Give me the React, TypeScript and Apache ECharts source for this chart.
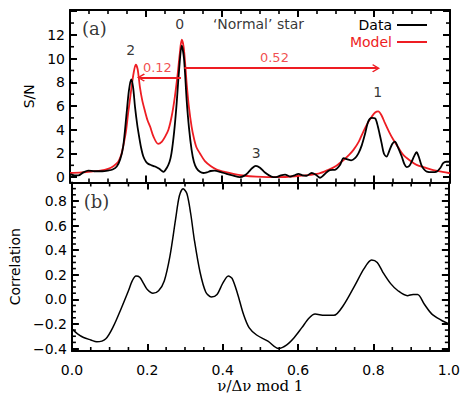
import { useEffect, useRef } from 'react';
import * as echarts from 'echarts';

// ---------- data ----------
const dataPhase = [
  0.0, 0.012, 0.022, 0.035, 0.048, 0.065, 0.085, 0.1, 0.112, 0.123, 0.132, 0.14, 0.149, 0.155, 0.161,
  0.166, 0.171, 0.177, 0.182, 0.187, 0.193, 0.2, 0.206, 0.215, 0.224, 0.235, 0.246, 0.255, 0.262,
  0.267, 0.274, 0.28, 0.287, 0.294, 0.3, 0.307, 0.313, 0.32, 0.326, 0.333, 0.342, 0.351, 0.36, 0.37,
  0.38, 0.395, 0.412, 0.43, 0.447, 0.46, 0.469, 0.479, 0.489, 0.5, 0.513, 0.53, 0.542, 0.555, 0.566,
  0.579, 0.59, 0.601, 0.612, 0.622, 0.636, 0.647, 0.658, 0.67, 0.684, 0.697, 0.71, 0.72, 0.73, 0.74,
  0.75, 0.759, 0.768, 0.776, 0.785, 0.794, 0.803, 0.81, 0.815, 0.82, 0.826, 0.833, 0.84, 0.848,
  0.855, 0.862, 0.873, 0.88, 0.886, 0.893, 0.899, 0.906, 0.912, 0.918, 0.925, 0.932, 0.939, 0.952,
  0.965, 0.975, 0.982, 0.99, 1.0,
];
const dataSN = [
  0.25, 0.15, 0.15, 0.4, 0.55, 0.5, 0.5, 0.56, 0.65, 0.9, 1.5, 2.6, 5.4, 7.3, 8.25,
  7.6, 5.95, 4.4, 3.4, 2.5, 1.74, 1.3, 1.12, 1.0, 0.9, 0.7, 0.45, 0.8, 1.3,
  2.0, 3.8, 5.95, 9.0, 11.1, 10.0, 6.5, 4.2, 2.3, 1.3, 0.75, 0.45, 0.35, 0.4, 0.52,
  0.55, 0.45, 0.28, 0.12, 0.0, 0.15, 0.4, 0.75, 0.95, 0.8, 0.39, 0.05, 0.0, 0.15, 0.22,
  0.05, 0.15, 0.28, 0.15, 0.12, 0.35, 0.2, -0.05, 0.25, 0.6, 0.62, 1.0, 1.6, 1.5, 1.42,
  1.6, 2.0, 2.7, 3.6, 4.7, 5.0, 4.95, 4.3, 3.6, 2.87, 2.0, 1.74, 2.2, 2.8,
  3.0, 2.6, 1.74, 1.1, 0.85, 0.95, 1.3, 1.8, 2.1, 1.7, 1.0, 0.65, 0.47, 0.42,
  0.47, 0.8, 1.18, 1.3, 1.3,
];

const modelPhase = [
  0.0, 0.03, 0.06, 0.08, 0.1, 0.115, 0.127, 0.135, 0.14, 0.147, 0.153, 0.158, 0.162, 0.167, 0.173,
  0.178, 0.184, 0.19, 0.197, 0.204, 0.211, 0.22, 0.232, 0.242, 0.25, 0.259, 0.268, 0.276, 0.283,
  0.289, 0.294, 0.299, 0.304, 0.307, 0.313, 0.32, 0.326, 0.333, 0.342, 0.355, 0.37, 0.386, 0.41,
  0.43, 0.46, 0.49, 0.54, 0.6, 0.654, 0.68, 0.7, 0.72, 0.735, 0.746, 0.76, 0.772, 0.784, 0.794,
  0.803, 0.811, 0.82, 0.829, 0.84, 0.851, 0.864, 0.877, 0.895, 0.912, 0.935, 0.956, 0.98, 1.0,
];
const modelSN = [
  0.35, 0.4, 0.5, 0.55, 0.7, 0.95, 1.3, 1.9, 2.6, 3.8, 5.4, 6.6, 7.6, 8.7, 9.5,
  9.1, 7.6, 6.5, 5.6, 4.8, 4.25, 3.4, 2.8, 3.0, 3.4, 4.0, 5.2, 6.8, 8.6,
  10.45, 11.6, 11.0, 9.2, 7.9, 5.9, 4.27, 3.3, 2.5, 2.0, 1.35, 0.95, 0.65, 0.42,
  0.28, 0.12, 0.05, 0.0, 0.1, 0.3, 0.62, 0.95, 1.45, 1.9, 2.3, 3.0, 3.85, 4.6, 5.1,
  5.45, 5.55, 5.2, 4.55, 3.8, 3.15, 2.5, 1.88, 1.4, 1.04, 0.8, 0.6, 0.45, 0.33,
];

const corrPhase = [
  0.0, 0.015, 0.031, 0.05, 0.066, 0.09, 0.11, 0.13, 0.15, 0.16, 0.17, 0.18, 0.19, 0.2, 0.215,
  0.23, 0.245, 0.26, 0.275, 0.285, 0.295, 0.305, 0.315, 0.325, 0.34, 0.355, 0.37, 0.385, 0.4,
  0.415, 0.425, 0.44, 0.455, 0.47, 0.49, 0.52, 0.548, 0.57, 0.59, 0.61, 0.63, 0.645, 0.67, 0.695,
  0.72, 0.75, 0.775, 0.795, 0.81, 0.825, 0.845, 0.865, 0.89, 0.905, 0.917, 0.935, 0.955, 0.98, 1.0,
];
const corrValue = [
  -0.24, -0.28, -0.31, -0.33, -0.345, -0.32, -0.22, -0.08, 0.07, 0.15, 0.19, 0.18, 0.13, 0.08, 0.05,
  0.07, 0.15, 0.35, 0.65, 0.84, 0.9, 0.86, 0.7, 0.48, 0.22, 0.06, 0.02, 0.04, 0.13,
  0.19, 0.17, 0.04, -0.12, -0.23, -0.29, -0.34, -0.4, -0.37, -0.31, -0.23, -0.15, -0.12, -0.13, -0.13,
  -0.05, 0.11, 0.25, 0.32, 0.3, 0.22, 0.13, 0.07, 0.03, 0.04, 0.04, -0.04, -0.12, -0.17, -0.2,
];

// ---------- ticks ----------
const xMajorValues = [0, 0.2, 0.4, 0.6, 0.8, 1.0];
const xMinorValues = [
  0.05, 0.1, 0.15, 0.25, 0.3, 0.35, 0.45, 0.5, 0.55, 0.65, 0.7, 0.75, 0.85, 0.9, 0.95,
];
const snTickValues = [0, 2, 4, 6, 8, 10, 12, 14];
const snLabelValues = [0, 2, 4, 6, 8, 10, 12];
const snMinorValues = [1, 3, 5, 7, 9, 11, 13];
const corrTickValues = [-0.4, -0.2, 0, 0.2, 0.4, 0.6, 0.8];
const corrMinorValues = [
  -0.35, -0.3, -0.25, -0.15, -0.1, -0.05, 0.05, 0.1, 0.15, 0.25, 0.3, 0.35, 0.45, 0.5, 0.55, 0.65,
  0.7, 0.75, 0.85, 0.9,
];

// ---------- annotations ----------
const modeNames = ['0', '1', '2', '3'];
const modePhase = [0.289, 0.81, 0.16, 0.49];
const modeSN = [12.88, 7.15, 10.73, 2.07];

const spacingTexts = ['0.12', '0.52'];
const spacingTextPhase = [0.23, 0.538];
const spacingTextSN = [9.22, 10.06];
const spacingArrowFrom = [0.292, 0.301];
const spacingArrowTo = [0.1868, 0.8053];
const spacingArrowSN = [8.4, 9.19];

const panelTags = ['(a)', '(b)'];
const panelTagPhase = [0.0316, 0.0316];
const panelTagValue = [12.56, 0.792];

const starTitle = '\u2018Normal\u2019 star';
const starTitlePhase = 0.376;
const starTitleSN = 12.88;

// ---------- styling ----------
const RED = '#ee1d23';
const SANS = 'DejaVu Sans';
const SERIF = 'DejaVu Serif';
const zip = (xs: number[], ys: number[]) => xs.map((x, i) => [x, ys[i]]);
const CHEVRON =
  'path://M0,0 L1,1.1 L0.8,1.3 L0.14,0.58 L0.14,1.3 L-0.14,1.3 L-0.14,0.58 L-0.8,1.3 L-1,1.1 Z';
const MAJOR = 7;
const MINOR = 4;

const SN_MIN = -0.45;
const SN_MAX = 14.1;
const C_MIN = -0.42;
const C_MAX = 0.95;

function xAx(grid: number, position: string, labels: boolean) {
  return {
    type: 'value',
    gridIndex: grid,
    position,
    min: 0,
    max: 1,
    axisLine: { show: true, onZero: false, lineStyle: { color: '#000', width: 2 } },
    axisTick: {
      show: true,
      inside: true,
      length: MAJOR,
      customValues: xMajorValues.slice(),
      lineStyle: { color: '#000', width: 2 },
    },
    splitLine: { show: false },
    axisLabel: labels
      ? {
          show: true,
          customValues: xMajorValues.slice(),
          margin: 12,
          formatter: (v: number) => v.toFixed(1),
          fontFamily: SANS,
          fontSize: 14,
          color: '#000',
        }
      : { show: false },
    ...(labels
      ? {
          name: '\u03bd/\u0394\u03bd mod 1',
          nameLocation: 'middle',
          nameGap: 27,
          nameTextStyle: { fontFamily: SERIF, fontSize: 15, color: '#000' },
        }
      : {}),
  };
}

function yAx(
  grid: number,
  position: string,
  min: number,
  max: number,
  ticks: number[],
  labels?: number[],
  fmt?: (v: number) => string,
  name?: string,
  nameGap?: number
) {
  return {
    type: 'value',
    gridIndex: grid,
    position,
    min,
    max,
    axisLine: { show: true, onZero: false, lineStyle: { color: '#000', width: 2 } },
    axisTick: {
      show: true,
      inside: true,
      length: MAJOR,
      customValues: ticks.slice(),
      lineStyle: { color: '#000', width: 2 },
    },
    splitLine: { show: false },
    axisLabel: labels
      ? {
          show: true,
          customValues: labels.slice(),
          formatter: fmt,
          margin: 5,
          fontFamily: SANS,
          fontSize: 14,
          color: '#000',
        }
      : { show: false },
    ...(name
      ? {
          name,
          nameLocation: 'middle',
          nameGap,
          nameTextStyle: { fontFamily: SANS, fontSize: 14, color: '#000' },
        }
      : {}),
  };
}

const snFmt = (v: number) => String(Math.round(v));
const corrFmt = (v: number) => (v < -1e-9 ? '\u2212' : '') + Math.abs(v).toFixed(1);

// minor tick entries: [axis value, side (0 bottom, 1 top, 2 left, 3 right)]
function minorTickData(yMinor: number[]) {
  const out: number[][] = [];
  [0, 1].forEach((s) => xMinorValues.forEach((v) => out.push([v, s])));
  [2, 3].forEach((s) => yMinor.forEach((v) => out.push([v, s])));
  return out;
}

function minorTickSeries(xIdx: number, yIdx: number, yLo: number, yHi: number, data: number[][]) {
  return {
    name: 'minorTicks' + xIdx,
    type: 'custom',
    xAxisIndex: xIdx,
    yAxisIndex: yIdx,
    silent: true,
    clip: false,
    z: 4,
    data,
    renderItem: (_params: any, api: any) => {
      const v = api.value(0);
      const side = api.value(1);
      let p: number[];
      let x2: number;
      let y2: number;
      if (side === 0) {
        p = api.coord([v, yLo]);
        x2 = p[0];
        y2 = p[1] - MINOR;
      } else if (side === 1) {
        p = api.coord([v, yHi]);
        x2 = p[0];
        y2 = p[1] + MINOR;
      } else if (side === 2) {
        p = api.coord([0, v]);
        x2 = p[0] + MINOR;
        y2 = p[1];
      } else {
        p = api.coord([1, v]);
        x2 = p[0] - MINOR;
        y2 = p[1];
      }
      return {
        type: 'line',
        shape: { x1: p[0], y1: p[1], x2, y2 },
        style: { stroke: '#000', lineWidth: 1.6 },
      };
    },
  };
}

function textItem(
  text: string,
  x: number,
  y: number,
  family: string,
  size: number,
  color: string,
  align: string
) {
  return {
    value: [x, y],
    name: text,
    label: {
      show: true,
      position: 'inside',
      formatter: text,
      fontFamily: family,
      fontSize: size,
      color,
      textBorderWidth: 0,
      align,
      verticalAlign: 'middle',
    },
  };
}

function buildOption() {
  return {
    animation: false,
    backgroundColor: '#fff',
    grid: [
      { left: 70, right: 13, top: 10, height: 172.5 },
      { left: 70, right: 13, top: 182.5, height: 171.5 },
    ],
    legend: {
      orient: 'vertical',
      right: 31,
      top: 13,
      align: 'right',
      icon: 'rect',
      itemWidth: 30,
      itemHeight: 2,
      itemGap: 3,
      textStyle: { fontFamily: SANS, fontSize: 14 },
      data: [
        { name: 'Data', textStyle: { color: '#000' } },
        { name: 'Model', textStyle: { color: RED } },
      ],
    },
    xAxis: [xAx(0, 'bottom', false), xAx(0, 'top', false), xAx(1, 'bottom', true), xAx(1, 'top', false)],
    yAxis: [
      yAx(0, 'left', SN_MIN, SN_MAX, snTickValues, snLabelValues, snFmt, 'S/N', 34),
      yAx(0, 'right', SN_MIN, SN_MAX, snTickValues),
      yAx(1, 'left', C_MIN, C_MAX, corrTickValues, corrTickValues, corrFmt, 'Correlation', 48),
      yAx(1, 'right', C_MIN, C_MAX, corrTickValues),
    ],
    series: [
      {
        name: 'Data',
        type: 'line',
        xAxisIndex: 0,
        yAxisIndex: 0,
        data: zip(dataPhase, dataSN),
        showSymbol: false,
        smooth: 0.3,
        lineStyle: { color: '#000', width: 1.8 },
        itemStyle: { color: '#000' },
        z: 3,
      },
      {
        name: 'Model',
        type: 'line',
        xAxisIndex: 0,
        yAxisIndex: 0,
        data: zip(modelPhase, modelSN),
        showSymbol: false,
        smooth: 0.3,
        lineStyle: { color: RED, width: 1.8 },
        itemStyle: { color: RED },
        z: 2,
        markLine: {
          silent: true,
          animation: false,
          symbol: ['none', CHEVRON],
          symbolSize: [8, 8],
          lineStyle: { color: RED, width: 1.8, type: 'solid' },
          itemStyle: { color: RED },
          label: { show: false },
          emphasis: { disabled: true },
          data: spacingArrowFrom.map((f, i) => [
            { coord: [f, spacingArrowSN[i]] },
            { coord: [spacingArrowTo[i], spacingArrowSN[i]] },
          ]),
        },
      },
      {
        name: 'Correlation',
        type: 'line',
        xAxisIndex: 2,
        yAxisIndex: 2,
        data: zip(corrPhase, corrValue),
        showSymbol: false,
        smooth: 0.3,
        lineStyle: { color: '#000', width: 1.5 },
        itemStyle: { color: '#000' },
      },
      minorTickSeries(0, 0, SN_MIN, SN_MAX, minorTickData(snMinorValues)),
      minorTickSeries(2, 2, C_MIN, C_MAX, minorTickData(corrMinorValues)),
      {
        name: 'annotTop',
        type: 'scatter',
        xAxisIndex: 0,
        yAxisIndex: 0,
        symbol: 'circle',
        symbolSize: 1,
        silent: true,
        itemStyle: { color: 'transparent' },
        z: 5,
        data: [
          ...modeNames.map((n, i) => textItem(n, modePhase[i], modeSN[i], SANS, 14, '#000', 'center')),
          ...spacingTexts.map((t, i) =>
            textItem(t, spacingTextPhase[i], spacingTextSN[i], SANS, 13, RED, 'center')
          ),
          textItem(panelTags[0], panelTagPhase[0], panelTagValue[0], SERIF, 18, '#000', 'left'),
          textItem(starTitle, starTitlePhase, starTitleSN, SANS, 14, '#000', 'left'),
        ],
      },
      {
        name: 'annotBottom',
        type: 'scatter',
        xAxisIndex: 2,
        yAxisIndex: 2,
        symbol: 'circle',
        symbolSize: 1,
        silent: true,
        itemStyle: { color: 'transparent' },
        z: 5,
        data: [textItem(panelTags[1], panelTagPhase[1], panelTagValue[1], SERIF, 18, '#000', 'left')],
      },
    ],
  };
}

export default function App() {
  const ref = useRef<HTMLDivElement>(null);
  useEffect(() => {
    document.body.style.margin = '0';
    const chart = echarts.init(ref.current!, null, { renderer: 'svg' });
    chart.setOption(buildOption() as any);
    return () => chart.dispose();
  }, []);
  return <div ref={ref} style={{ width: 463, height: 394 }} />;
}
